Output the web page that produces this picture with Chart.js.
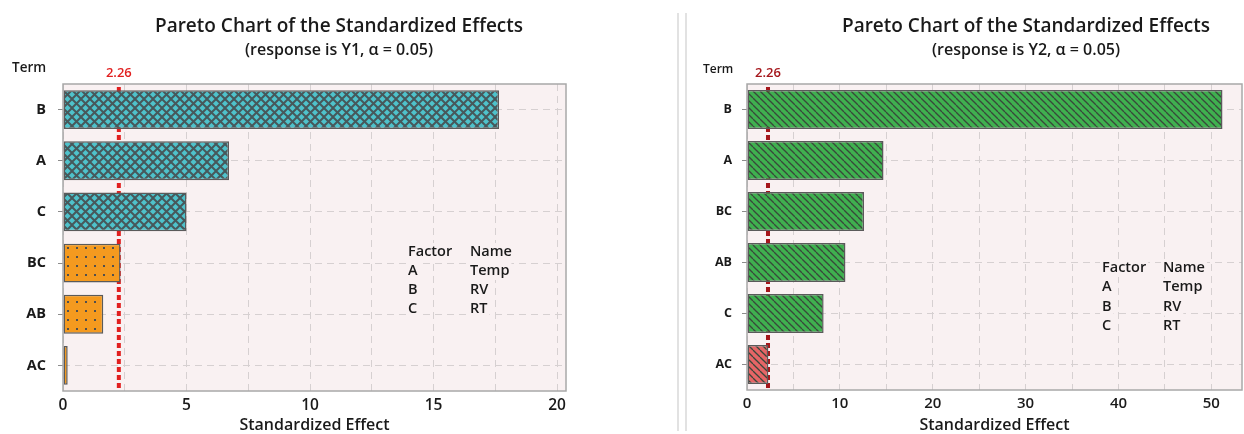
<!DOCTYPE html>
<html>
<head>
<meta charset="utf-8">
<script src="https://cdn.jsdelivr.net/npm/chart.js@4.4.1/dist/chart.umd.min.js"></script>
<style>
  html, body { margin: 0; padding: 0; background: #ffffff; }
  body { width: 1244px; height: 434px; position: relative; overflow: hidden; }
  canvas { position: absolute; top: 0; }
  .sep { position: absolute; top: 13px; width: 2px; height: 418px; background: #e2e2e2; }
</style>
</head>
<body>
<canvas id="c1" width="640" height="434" style="left:0px;width:640px;height:434px"></canvas>
<div class="sep" style="left:677px"></div>
<div class="sep" style="left:685px"></div>
<canvas id="c2" width="554" height="434" style="left:690px;width:554px;height:434px"></canvas>
<script>
// ---------------- data ----------------
const termsY1 = ['B', 'A', 'C', 'BC', 'AB', 'AC'];
const effectsY1 = [17.65, 6.72, 5.0, 2.33, 1.63, 0.19];
const termsY2 = ['B', 'A', 'BC', 'AB', 'C', 'AC'];
const effectsY2 = [51.2, 14.7, 12.6, 10.6, 8.25, 2.3];
const refValue = 2.26;
const refLabel = '2.26';
const titleText = 'Pareto Chart of the Standardized Effects';
const subtitleY1 = '(response is Y1, \u03B1 = 0.05)';
const subtitleY2 = '(response is Y2, \u03B1 = 0.05)';
const axisTitle = 'Standardized Effect';
const termTitle = 'Term';
const factorCol = ['Factor', 'A', 'B', 'C'];
const nameCol = ['Name', 'Temp', 'RV', 'RT'];
const styleY1 = ['cross', 'cross', 'cross', 'dots', 'dots', 'dots'];
const styleY2 = ['green', 'green', 'green', 'green', 'green', 'red'];

const FONT = "'Open Sans', 'Noto Sans', sans-serif";
Chart.defaults.font.family = FONT;
const PLOT_BG = '#f9f1f2';

// ---------------- patterns ----------------
function makeTile(size, draw) {
  const c = document.createElement('canvas');
  c.width = size; c.height = size;
  const g = c.getContext('2d');
  draw(g, size);
  return document.getElementById('c1').getContext('2d').createPattern(c, 'repeat');
}
function crossPattern() {
  return makeTile(9, (g, p) => {
    g.fillStyle = '#4fc2cb'; g.fillRect(0, 0, p, p);
    g.strokeStyle = '#47585b'; g.lineWidth = 2;
    for (let k = -1; k <= 1; k++) {
      g.beginPath(); g.moveTo(k * p, 0); g.lineTo(k * p + p, p); g.stroke();
      g.beginPath(); g.moveTo(k * p, p); g.lineTo(k * p + p, 0); g.stroke();
    }
  });
}
function dotPattern() {
  return makeTile(9, (g, p) => {
    g.fillStyle = '#f49a1f'; g.fillRect(0, 0, p, p);
    g.fillStyle = '#4f4f4f'; g.fillRect(4, 4, 2, 2);
  });
}
function diagPattern(bg) {
  return makeTile(7, (g, p) => {
    g.fillStyle = bg; g.fillRect(0, 0, p, p);
    g.strokeStyle = '#39473b'; g.lineWidth = 1.3;
    for (let k = -1; k <= 1; k++) {
      g.beginPath(); g.moveTo(k * p, 0); g.lineTo(k * p + p, p); g.stroke();
    }
  });
}
const patterns = {
  cross: crossPattern(),
  dots: dotPattern(),
  green: diagPattern('#3fb04f'),
  red: diagPattern('#e66566')
};

// ---------------- plugin ----------------
function paretoPlugin(cfg) {
  return {
    id: 'pareto_' + cfg.id,
    beforeDraw(chart) {
      const a = chart.chartArea, ctx = chart.ctx;
      ctx.save();
      ctx.fillStyle = PLOT_BG;
      ctx.fillRect(a.left, a.top, a.right - a.left, a.bottom - a.top);
      ctx.restore();
    },
    beforeDatasetsDraw(chart) {
      const a = chart.chartArea, ctx = chart.ctx;
      const x = chart.scales.x.getPixelForValue(refValue);
      ctx.save();
      ctx.strokeStyle = cfg.refColor;
      ctx.lineWidth = 4;
      ctx.setLineDash([5, 3]);
      ctx.beginPath();
      ctx.moveTo(x, a.top + 3);
      ctx.lineTo(x, a.bottom);
      ctx.stroke();
      ctx.restore();
    },
    afterDatasetsDraw(chart) {
      const a = chart.chartArea, ctx = chart.ctx;
      ctx.save();
      ctx.strokeStyle = '#a8a8a8';
      ctx.lineWidth = 1.5;
      ctx.strokeRect(a.left, a.top, a.right - a.left, a.bottom - a.top);
      ctx.restore();
    },
    afterDraw(chart) {
      const a = chart.chartArea, ctx = chart.ctx;
      ctx.save();
      ctx.textBaseline = 'middle';
      // titles
      ctx.fillStyle = '#1a1a1a';
      ctx.textAlign = 'center';
      ctx.font = '600 ' + cfg.titleSize + 'px ' + FONT;
      ctx.fillText(titleText, cfg.titleX, 27);
      ctx.font = '600 ' + cfg.subSize + 'px ' + FONT;
      ctx.fillText(cfg.subtitle, cfg.titleX, 50);
      // axis title
      ctx.font = '600 16px ' + FONT;
      ctx.fillText(axisTitle, (a.left + a.right) / 2, 425);
      // Term
      ctx.textAlign = 'left';
      ctx.font = '600 ' + cfg.termSize + 'px ' + FONT;
      ctx.fillText(termTitle, cfg.termX, cfg.termY);
      // ref label
      const xr = chart.scales.x.getPixelForValue(refValue);
      ctx.textAlign = 'center';
      ctx.fillStyle = cfg.refColor;
      ctx.font = '600 13px ' + FONT;
      ctx.fillText(refLabel, xr, 73);
      // factor table
      ctx.font = '600 14.5px ' + FONT;
      ctx.textAlign = 'left';
      for (let i = 0; i < factorCol.length; i++) {
        const y = cfg.tableY + i * cfg.tableStep;
        const items = [[factorCol[i], cfg.tableX1], [nameCol[i], cfg.tableX2]];
        for (const [t, x] of items) {
          const w = ctx.measureText(t).width;
          ctx.fillStyle = PLOT_BG;
          ctx.fillRect(x - 2, y - 9, w + 4, 18);
          ctx.fillStyle = '#1a1a1a';
          ctx.fillText(t, x, y);
        }
      }
      ctx.restore();
    }
  };
}

function makeChart(canvasId, cfg) {
  const ctx = document.getElementById(canvasId).getContext('2d');
  return new Chart(ctx, {
    type: 'bar',
    data: {
      labels: cfg.terms,
      datasets: [{
        data: cfg.values,
        backgroundColor: cfg.styles.map(s => patterns[s]),
        borderColor: '#5a5a5a',
        borderWidth: 1.5,
        borderSkipped: false,
        barPercentage: 0.76,
        categoryPercentage: 1.0
      }]
    },
    options: {
      indexAxis: 'y',
      responsive: false,
      devicePixelRatio: 1,
      animation: false,
      layout: { padding: { left: 0, top: 84, right: cfg.padRight, bottom: 0 } },
      plugins: { legend: { display: false }, tooltip: { enabled: false }, title: { display: false } },
      scales: {
        x: {
          type: 'linear',
          min: 0,
          max: cfg.xMax,
          afterFit: s => { s.height = cfg.xHeight; },
          ticks: {
            stepSize: cfg.step,
            includeBounds: false,
            autoSkip: false,
            maxRotation: 0,
            padding: 5,
            color: '#1a1a1a',
            font: { size: cfg.xTickSize, weight: '600' },
            callback: v => (Math.abs(v / cfg.labelEvery - Math.round(v / cfg.labelEvery)) < 1e-6 ? String(v) : '')
          },
          grid: { color: '#d6d0d1', lineWidth: 1, drawTicks: false },
          border: { display: false, dash: [7, 5] }
        },
        y: {
          type: 'category',
          afterFit: s => { s.width = cfg.yWidth; },
          ticks: {
            padding: cfg.yPad,
            color: '#1a1a1a',
            font: { size: cfg.yTickSize, weight: '700' }
          },
          grid: { color: '#d6d0d1', lineWidth: 1, offset: false, drawTicks: true, tickLength: 5, tickColor: '#8c8c8c', tickBorderDash: [] },
          border: { display: false, dash: [7, 5] }
        }
      }
    },
    plugins: [paretoPlugin(cfg)]
  });
}

makeChart('c1', {
  id: 'y1', terms: termsY1, values: effectsY1, styles: styleY1,
  padRight: 74, xHeight: 43, yWidth: 63, xMax: 20.36, step: 2.5, labelEvery: 5,
  xTickSize: 15.5, yTickSize: 14.5, yPad: 12,
  refColor: '#e11f1f', titleSize: 19, subSize: 16, subtitle: subtitleY1, titleX: 339,
  termSize: 13.5, termX: 12, termY: 68,
  tableX1: 408, tableX2: 470, tableY: 252, tableStep: 19
});
makeChart('c2', {
  id: 'y2', terms: termsY2, values: effectsY2, styles: styleY2,
  padRight: 2, xHeight: 44, yWidth: 57, xMax: 53.3, step: 5, labelEvery: 10,
  xTickSize: 15, yTickSize: 12.5, yPad: 10,
  refColor: '#a5161b', titleSize: 19, subSize: 16, subtitle: subtitleY2, titleX: 336,
  termSize: 12, termX: 13, termY: 70,
  tableX1: 412, tableX2: 473, tableY: 268, tableStep: 19.3
});
</script>
</body>
</html>
